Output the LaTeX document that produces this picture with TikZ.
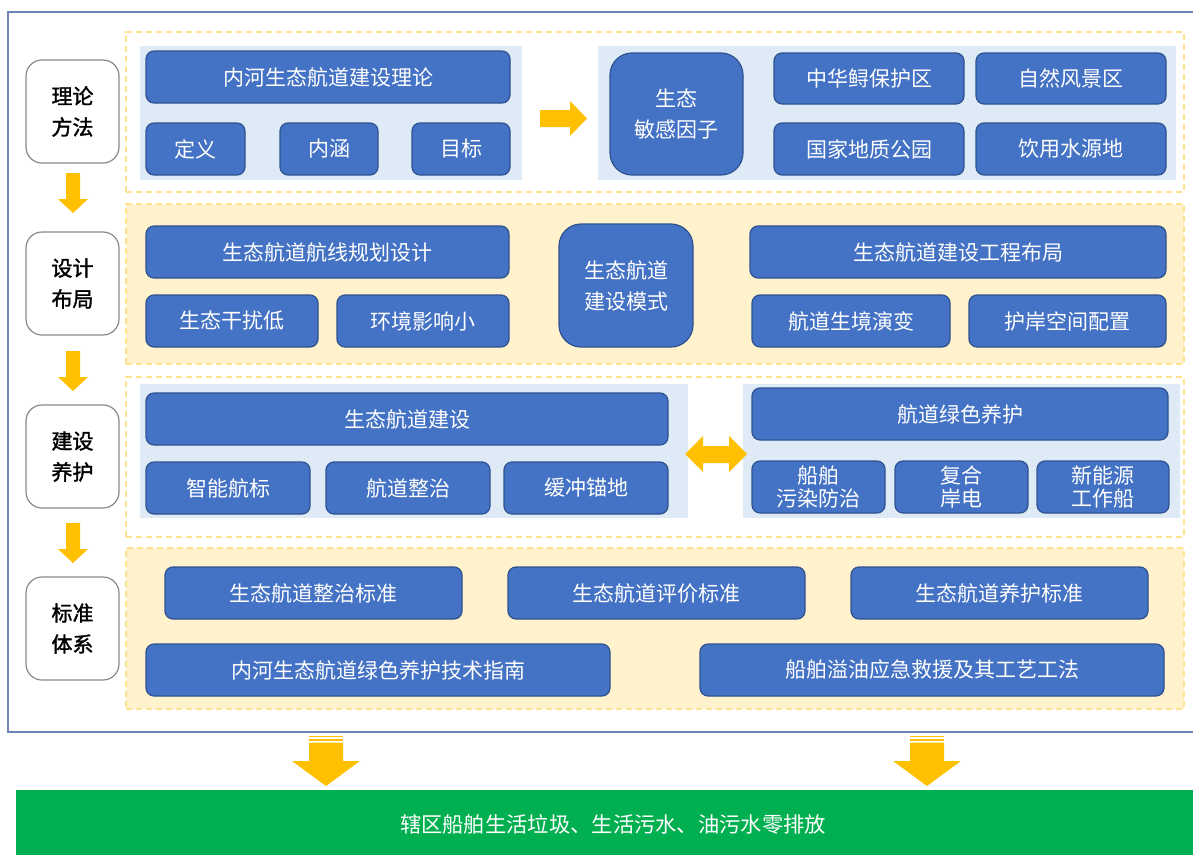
\documentclass[tikz,border=0pt]{standalone}
\usepackage{fontspec}
\setmainfont{Noto Sans CJK SC}
\newfontfamily\lblfont[FakeBold=1.5]{Noto Sans CJK SC}
\definecolor{bfill}{HTML}{4472C4}
\definecolor{bdraw}{HTML}{2F528F}
\definecolor{panelc}{HTML}{DEEBF7}
\definecolor{sectc}{HTML}{FFF2CC}
\definecolor{sectdraw}{HTML}{FFE28F}
\definecolor{arrowc}{HTML}{FFC000}
\definecolor{greenc}{HTML}{00B050}
\definecolor{framec}{HTML}{6F86B5}
\definecolor{lblc}{HTML}{8A8A8A}
\tikzset{
  bluebox/.style={rectangle, rounded corners=8bp, fill=bfill, draw=bdraw, line width=1.2bp,
    text=white, font=\fontsize{21bp}{25bp}\selectfont, align=center, inner sep=0pt},
  bigbox/.style={bluebox, rounded corners=22bp, font=\fontsize{21bp}{31bp}\selectfont},
  twoline/.style={bluebox, font=\fontsize{21bp}{23bp}\selectfont},
  lblbox/.style={rectangle, rounded corners=16bp, draw=lblc, line width=1.2bp, fill=white,
    font=\lblfont\fontsize{21bp}{31bp}\selectfont, align=center, inner sep=0pt},
  panelbox/.style={rectangle, fill=panelc, draw=none, inner sep=0pt},
  sectwhite/.style={rectangle, draw=sectdraw, fill=white, line width=1.2bp,
    dash pattern=on 6bp off 4bp, inner sep=0pt},
  sectyellow/.style={sectwhite, fill=sectc},
  framebox/.style={rectangle, draw=framec, line width=1.5bp, fill=white, inner sep=0pt},
  greenbox/.style={rectangle, fill=greenc, draw=none, inner sep=0pt},
  greentext/.style={text=white, font=\fontsize{21.3bp}{25bp}\selectfont, inner sep=0pt},
  arrowfill/.style={fill=arrowc, draw=none}
}
\newcommand\bx[7]{\node[#1, minimum width={(#5-#3)*1bp}, minimum height={(#6-#4)*1bp}] (#2) at ({(#3+#5)/2},{(#4+#6)/2}) {#7};}
\begin{document}
\begin{tikzpicture}[x=1bp, y=-1bp]
\useasboundingbox (0,0) rectangle (1193,855);
% outer frame and result bar
\bx{framebox}{frame}{8}{12}{1205}{732}{}
\bx{greenbox}{result}{16}{790}{1200}{870}{}
\node[greentext] (resulttext) at (613,824) {辖区船舶生活垃圾、生活污水、油污水零排放};

% sections
\bx{sectwhite}{sec1}{126}{32}{1184}{192}{}
\bx{sectyellow}{sec2}{126}{204}{1184}{364}{}
\bx{sectwhite}{sec3}{126}{377}{1184}{537}{}
\bx{sectyellow}{sec4}{126}{548}{1184}{709}{}

% left labels
\bx{lblbox}{l1}{26}{60}{119}{163}{理论\\方法}
\bx{lblbox}{l2}{26}{232}{119}{335}{设计\\布局}
\bx{lblbox}{l3}{26}{405}{119}{508}{建设\\养护}
\bx{lblbox}{l4}{26}{577}{119}{680}{标准\\体系}

% left down arrows
\foreach \t in {173,351,523}{
  \fill[arrowfill] (66,\t) -- (80,\t) -- (80,\t+26) -- (88,\t+26) -- (73,\t+40) -- (58,\t+26) -- (66,\t+26) -- cycle;
}

% section 1
\bx{panelbox}{p1a}{140}{46}{522}{180}{}
\bx{panelbox}{p1b}{598}{46}{1176}{180}{}
\bx{bluebox}{theory}{146}{51}{510}{103}{内河生态航道建设理论}
\bx{bluebox}{def}{146}{123}{245}{175}{定义}
\bx{bluebox}{conn}{280}{123}{378}{175}{内涵}
\bx{bluebox}{goal}{412}{123}{510}{175}{目标}
\fill[arrowfill] (540,110) -- (570,110) -- (570,101) -- (587,118.5) -- (570,136) -- (570,127) -- (540,127) -- cycle;
\bx{bigbox}{sens}{610}{53}{743}{175}{生态\\敏感因子}
\bx{bluebox}{s1}{774}{53}{964}{104}{中华鲟保护区}
\bx{bluebox}{s2}{976}{53}{1166}{104}{自然风景区}
\bx{bluebox}{s3}{774}{123}{964}{175}{国家地质公园}
\bx{bluebox}{s4}{976}{123}{1166}{175}{饮用水源地}

% section 2
\bx{bluebox}{route}{146}{226}{509}{278}{生态航道航线规划设计}
\bx{bluebox}{r1}{146}{295}{318}{347}{生态干扰低}
\bx{bluebox}{r2}{337}{295}{509}{347}{环境影响小}
\bx{bigbox}{mode}{559}{224}{693}{347}{生态航道\\建设模式}
\bx{bluebox}{layout}{750}{226}{1166}{278}{生态航道建设工程布局}
\bx{bluebox}{y1}{752}{295}{950}{347}{航道生境演变}
\bx{bluebox}{y2}{969}{295}{1166}{347}{护岸空间配置}

% section 3
\bx{panelbox}{p3a}{140}{384}{688}{518}{}
\bx{panelbox}{p3b}{743}{384}{1180}{518}{}
\bx{bluebox}{build}{146}{393}{668}{445}{生态航道建设}
\bx{bluebox}{b1}{146}{462}{310}{514}{智能航标}
\bx{bluebox}{b2}{326}{462}{490}{514}{航道整治}
\bx{bluebox}{b3}{504}{462}{668}{514}{缓冲锚地}
\fill[arrowfill] (685,454) -- (703,436) -- (703,446) -- (729,446) -- (729,436) -- (747,454) -- (729,472) -- (729,463) -- (703,463) -- (703,472) -- cycle;
\bx{bluebox}{green}{752}{388}{1168}{440}{航道绿色养护}
\bx{twoline}{g1}{752}{461}{885}{513}{船舶\\污染防治}
\bx{twoline}{g2}{895}{461}{1028}{513}{复合\\岸电}
\bx{twoline}{g3}{1037}{461}{1169}{513}{新能源\\工作船}

% section 4
\bx{bluebox}{st1}{165}{567}{462}{619}{生态航道整治标准}
\bx{bluebox}{st2}{508}{567}{805}{619}{生态航道评价标准}
\bx{bluebox}{st3}{851}{567}{1148}{619}{生态航道养护标准}
\bx{bluebox}{st4}{146}{644}{610}{696}{内河生态航道绿色养护技术指南}
\bx{bluebox}{st5}{700}{644}{1164}{696}{船舶溢油应急救援及其工艺工法}

% bottom arrows
\foreach \c in {326,927}{
  \fill[arrowfill] (\c-17,735.5) rectangle (\c+17,737.2);
  \fill[arrowfill] (\c-17,739) rectangle (\c+17,740.7);
  \fill[arrowfill] (\c-17,742.5) -- (\c+17,742.5) -- (\c+17,761) -- (\c+34,761) -- (\c,786) -- (\c-34,761) -- (\c-17,761) -- cycle;
}
\end{tikzpicture}
\end{document}
